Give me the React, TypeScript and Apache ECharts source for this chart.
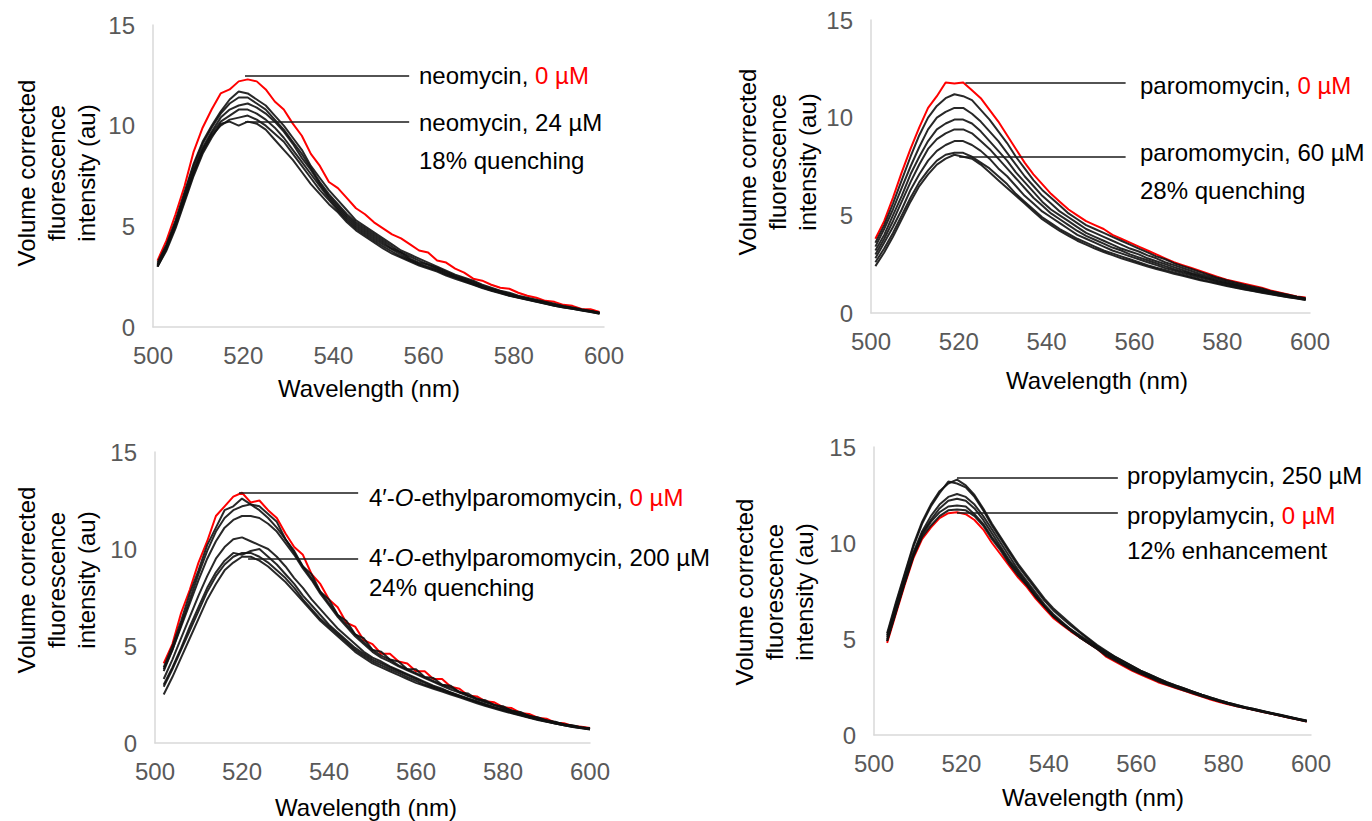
import React, { useEffect, useRef } from "react";
import * as echarts from "echarts";

// ---------- wavelengths (nm) ----------
const WL_ODD = [501, 503, 505, 507, 509, 511, 513, 515, 517, 519, 521, 523, 525, 527, 529, 531, 533, 535, 537, 539, 541, 543, 545, 547, 549, 551, 553, 555, 557, 559, 561, 563, 565, 567, 569, 571, 573, 575, 577, 579, 581, 583, 585, 587, 589, 591, 593, 595, 597, 599];
const WL_EVEN = [502, 504, 506, 508, 510, 512, 514, 516, 518, 520, 522, 524, 526, 528, 530, 532, 534, 536, 538, 540, 542, 544, 546, 548, 550, 552, 554, 556, 558, 560, 562, 564, 566, 568, 570, 572, 574, 576, 578, 580, 582, 584, 586, 588, 590, 592, 594, 596, 598, 600];
const WL_PROPYL = [503, 505, 507, 509, 511, 513, 515, 517, 519, 521, 523, 525, 527, 529, 531, 533, 535, 537, 539, 541, 543, 545, 547, 549, 551, 553, 555, 557, 559, 561, 563, 565, 567, 569, 571, 573, 575, 577, 579, 581, 583, 585, 587, 589, 591, 593, 595, 597, 599];

// ---------- neomycin ----------
const NEO_0 = [3.3, 4.3, 5.6, 7.0, 8.7, 9.9, 10.8, 11.6, 11.8, 12.2, 12.3, 12.2, 11.8, 11.2, 10.8, 10.1, 9.5, 8.6, 8.0, 7.2, 6.9, 6.4, 5.9, 5.6, 5.2, 4.9, 4.6, 4.4, 4.1, 3.8, 3.7, 3.3, 3.2, 2.9, 2.7, 2.4, 2.3, 2.1, 1.95, 1.9, 1.7, 1.55, 1.45, 1.3, 1.25, 1.1, 1.05, 0.9, 0.88, 0.75];
const NEO_A = [3.2, 4.1, 5.3, 6.7, 8.1, 9.2, 10.0, 10.7, 11.3, 11.7, 11.6, 11.3, 11.0, 10.5, 10.0, 9.4, 8.8, 8.0, 7.4, 6.8, 6.3, 5.8, 5.3, 5.0, 4.7, 4.4, 4.1, 3.8, 3.6, 3.4, 3.2, 3.0, 2.8, 2.6, 2.45, 2.3, 2.1, 1.95, 1.8, 1.7, 1.55, 1.45, 1.35, 1.25, 1.15, 1.05, 0.97, 0.88, 0.8, 0.72];
const NEO_B = [3.1, 4.0, 5.2, 6.6, 8.0, 9.1, 9.9, 10.6, 11.1, 11.4, 11.4, 11.1, 10.8, 10.3, 9.8, 9.2, 8.6, 7.9, 7.2, 6.6, 6.1, 5.6, 5.2, 4.9, 4.6, 4.3, 4.0, 3.7, 3.5, 3.3, 3.1, 2.95, 2.75, 2.55, 2.4, 2.25, 2.05, 1.9, 1.78, 1.65, 1.52, 1.42, 1.32, 1.22, 1.12, 1.02, 0.95, 0.86, 0.79, 0.7];
const NEO_C = [3.0, 3.9, 5.1, 6.4, 7.8, 8.9, 9.7, 10.4, 10.8, 11.0, 11.1, 10.9, 10.6, 10.2, 9.7, 9.1, 8.4, 7.8, 7.1, 6.5, 6.0, 5.5, 5.1, 4.8, 4.5, 4.2, 3.9, 3.7, 3.4, 3.2, 3.1, 2.9, 2.7, 2.5, 2.35, 2.2, 2.0, 1.85, 1.75, 1.6, 1.5, 1.4, 1.3, 1.2, 1.1, 1.0, 0.95, 0.85, 0.8, 0.7];
const NEO_D = [3.1, 4.0, 5.1, 6.4, 7.7, 8.8, 9.6, 10.2, 10.5, 10.8, 10.8, 10.6, 10.3, 9.9, 9.4, 8.8, 8.2, 7.6, 7.0, 6.4, 5.9, 5.4, 5.0, 4.7, 4.4, 4.1, 3.85, 3.6, 3.35, 3.15, 3.0, 2.85, 2.65, 2.48, 2.3, 2.15, 1.98, 1.83, 1.72, 1.58, 1.48, 1.38, 1.28, 1.18, 1.08, 0.99, 0.92, 0.84, 0.77, 0.68];
const NEO_E = [3.0, 3.9, 5.0, 6.3, 7.6, 8.7, 9.5, 10.0, 10.3, 10.4, 10.5, 10.3, 10.0, 9.6, 9.2, 8.6, 8.0, 7.4, 6.8, 6.3, 5.8, 5.3, 4.9, 4.6, 4.3, 4.0, 3.75, 3.5, 3.3, 3.1, 2.95, 2.8, 2.6, 2.45, 2.28, 2.12, 1.96, 1.82, 1.7, 1.56, 1.46, 1.36, 1.26, 1.16, 1.06, 0.98, 0.9, 0.83, 0.76, 0.67];
const NEO_F = [3.0, 3.8, 4.9, 6.2, 7.5, 8.6, 9.4, 10.1, 10.2, 10.0, 10.2, 10.1, 9.8, 9.3, 8.8, 8.3, 7.7, 7.1, 6.6, 6.1, 5.7, 5.2, 4.8, 4.5, 4.2, 3.9, 3.65, 3.45, 3.25, 3.05, 2.9, 2.75, 2.55, 2.4, 2.25, 2.1, 1.94, 1.8, 1.68, 1.55, 1.45, 1.35, 1.25, 1.15, 1.05, 0.97, 0.9, 0.82, 0.75, 0.66];

// ---------- paromomycin ----------
const PARO_0 = [3.8, 4.7, 5.9, 7.2, 8.4, 9.5, 10.5, 11.1, 11.8, 11.75, 11.8, 11.4, 11.0, 10.4, 9.8, 9.1, 8.4, 7.7, 7.1, 6.6, 6.1, 5.7, 5.3, 5.0, 4.7, 4.5, 4.3, 4.0, 3.8, 3.6, 3.4, 3.2, 3.0, 2.8, 2.6, 2.45, 2.3, 2.15, 2.0, 1.85, 1.7, 1.6, 1.5, 1.4, 1.3, 1.15, 1.05, 0.95, 0.85, 0.8];
const PARO_A = [3.6, 4.5, 5.6, 6.8, 8.0, 9.1, 10.0, 10.6, 11.0, 11.2, 11.1, 10.9, 10.4, 9.9, 9.3, 8.7, 8.0, 7.4, 6.8, 6.3, 5.9, 5.5, 5.1, 4.8, 4.5, 4.3, 4.1, 3.9, 3.7, 3.5, 3.3, 3.1, 2.9, 2.75, 2.55, 2.4, 2.25, 2.1, 1.95, 1.8, 1.68, 1.56, 1.45, 1.35, 1.25, 1.12, 1.02, 0.93, 0.83, 0.76];
const PARO_B = [3.4, 4.3, 5.3, 6.4, 7.5, 8.5, 9.4, 10.0, 10.3, 10.5, 10.5, 10.2, 9.8, 9.3, 8.8, 8.2, 7.6, 7.0, 6.5, 6.0, 5.6, 5.2, 4.9, 4.6, 4.3, 4.1, 3.9, 3.7, 3.5, 3.3, 3.15, 2.95, 2.8, 2.6, 2.45, 2.3, 2.15, 2.0, 1.88, 1.75, 1.62, 1.5, 1.4, 1.3, 1.2, 1.1, 1.0, 0.9, 0.82, 0.74];
const PARO_C = [3.2, 4.0, 5.0, 6.0, 7.1, 8.0, 8.8, 9.4, 9.7, 9.9, 9.9, 9.7, 9.3, 8.8, 8.3, 7.8, 7.2, 6.7, 6.2, 5.7, 5.3, 5.0, 4.7, 4.4, 4.1, 3.9, 3.7, 3.5, 3.3, 3.15, 3.0, 2.8, 2.65, 2.5, 2.35, 2.2, 2.05, 1.92, 1.8, 1.68, 1.56, 1.45, 1.35, 1.25, 1.15, 1.06, 0.97, 0.88, 0.8, 0.72];
const PARO_D = [3.0, 3.8, 4.7, 5.7, 6.7, 7.6, 8.4, 8.9, 9.2, 9.4, 9.4, 9.2, 8.8, 8.4, 7.9, 7.4, 6.9, 6.4, 5.9, 5.5, 5.1, 4.8, 4.5, 4.2, 3.95, 3.75, 3.55, 3.35, 3.2, 3.0, 2.85, 2.7, 2.55, 2.4, 2.25, 2.12, 2.0, 1.87, 1.75, 1.63, 1.52, 1.42, 1.32, 1.22, 1.13, 1.04, 0.95, 0.87, 0.79, 0.71];
const PARO_E = [2.8, 3.6, 4.4, 5.3, 6.3, 7.1, 7.8, 8.3, 8.6, 8.8, 8.8, 8.6, 8.3, 7.9, 7.4, 7.0, 6.5, 6.0, 5.6, 5.2, 4.9, 4.6, 4.3, 4.0, 3.8, 3.6, 3.4, 3.2, 3.05, 2.9, 2.75, 2.6, 2.45, 2.3, 2.18, 2.05, 1.93, 1.8, 1.7, 1.58, 1.48, 1.38, 1.28, 1.19, 1.1, 1.02, 0.93, 0.85, 0.77, 0.7];
const PARO_F = [2.6, 3.3, 4.1, 5.0, 5.9, 6.7, 7.3, 7.8, 8.1, 8.2, 8.2, 8.0, 7.7, 7.4, 7.0, 6.6, 6.1, 5.7, 5.3, 4.9, 4.6, 4.3, 4.05, 3.8, 3.6, 3.4, 3.2, 3.05, 2.9, 2.75, 2.6, 2.45, 2.32, 2.2, 2.08, 1.96, 1.84, 1.72, 1.62, 1.52, 1.42, 1.32, 1.23, 1.14, 1.06, 0.98, 0.9, 0.82, 0.75, 0.68];
const PARO_G = [2.4, 3.1, 3.9, 4.8, 5.7, 6.5, 7.1, 7.6, 7.9, 8.1, 8.0, 7.9, 7.6, 7.2, 6.8, 6.4, 6.0, 5.6, 5.2, 4.8, 4.5, 4.2, 3.95, 3.7, 3.5, 3.3, 3.12, 2.96, 2.8, 2.66, 2.52, 2.38, 2.25, 2.13, 2.01, 1.9, 1.79, 1.68, 1.58, 1.48, 1.38, 1.29, 1.2, 1.12, 1.04, 0.96, 0.88, 0.81, 0.74, 0.67];

// ---------- 4'-O-ethylparomomycin ----------
const ETHYL_0 = [4.1, 5.1, 6.7, 7.9, 9.3, 10.4, 11.7, 12.2, 12.7, 12.9, 12.4, 12.5, 12.0, 11.6, 10.8, 10.1, 9.7, 8.7, 8.2, 7.4, 7.0, 6.2, 6.0, 5.3, 5.1, 4.6, 4.6, 4.2, 4.1, 3.7, 3.7, 3.3, 3.3, 2.9, 2.8, 2.45, 2.4, 2.15, 2.1, 1.85, 1.8, 1.55, 1.5, 1.3, 1.25, 1.05, 1.02, 0.88, 0.84, 0.77];
const ETHYL_A = [3.9, 5.0, 6.3, 7.7, 8.9, 10.2, 11.1, 12.0, 12.2, 12.6, 12.3, 12.2, 11.8, 11.4, 10.5, 9.9, 9.1, 8.7, 7.8, 7.4, 6.6, 6.3, 5.6, 5.4, 4.8, 4.7, 4.3, 4.2, 3.8, 3.8, 3.4, 3.35, 3.0, 2.95, 2.6, 2.55, 2.25, 2.2, 1.95, 1.9, 1.65, 1.6, 1.38, 1.33, 1.15, 1.1, 0.96, 0.92, 0.8, 0.76];
const ETHYL_B = [3.7, 4.8, 6.1, 7.4, 8.7, 9.9, 10.9, 11.6, 12.0, 12.2, 12.3, 12.0, 11.6, 11.1, 10.5, 9.8, 9.1, 8.5, 7.8, 7.2, 6.6, 6.1, 5.6, 5.2, 4.8, 4.5, 4.3, 4.0, 3.8, 3.6, 3.4, 3.2, 3.0, 2.85, 2.65, 2.45, 2.3, 2.12, 1.98, 1.82, 1.68, 1.54, 1.4, 1.28, 1.17, 1.07, 0.97, 0.88, 0.81, 0.75];
const ETHYL_C = [3.8, 4.8, 6.0, 7.2, 8.4, 9.5, 10.4, 11.1, 11.5, 11.7, 11.7, 11.6, 11.3, 10.9, 10.3, 9.7, 9.0, 8.4, 7.7, 7.1, 6.5, 6.0, 5.5, 5.1, 4.7, 4.4, 4.2, 3.95, 3.75, 3.55, 3.35, 3.15, 2.95, 2.75, 2.6, 2.42, 2.25, 2.1, 1.95, 1.8, 1.66, 1.52, 1.4, 1.27, 1.16, 1.06, 0.96, 0.88, 0.8, 0.74];
const ETHYL_D = [3.3, 4.3, 5.4, 6.5, 7.6, 8.6, 9.5, 10.1, 10.5, 10.6, 10.4, 10.2, 10.0, 9.6, 9.1, 8.5, 8.0, 7.4, 6.9, 6.4, 5.9, 5.5, 5.1, 4.7, 4.4, 4.2, 3.95, 3.75, 3.55, 3.35, 3.15, 2.95, 2.8, 2.6, 2.45, 2.3, 2.15, 2.0, 1.85, 1.72, 1.6, 1.47, 1.35, 1.24, 1.13, 1.03, 0.94, 0.86, 0.79, 0.73];
const ETHYL_E = [3.0, 3.9, 4.9, 6.0, 7.0, 8.0, 8.8, 9.4, 9.8, 9.7, 9.9, 10.0, 9.6, 9.2, 8.7, 8.2, 7.6, 7.1, 6.6, 6.1, 5.7, 5.3, 4.9, 4.6, 4.3, 4.1, 3.9, 3.7, 3.5, 3.3, 3.1, 2.9, 2.75, 2.6, 2.42, 2.27, 2.12, 1.97, 1.83, 1.7, 1.57, 1.45, 1.33, 1.22, 1.12, 1.02, 0.93, 0.85, 0.78, 0.72];
const ETHYL_F = [2.9, 3.8, 4.8, 5.8, 6.8, 7.8, 8.6, 9.2, 9.6, 9.8, 9.8, 9.6, 9.3, 8.9, 8.5, 8.0, 7.4, 6.9, 6.4, 6.0, 5.6, 5.2, 4.8, 4.5, 4.2, 4.0, 3.8, 3.6, 3.4, 3.2, 3.0, 2.85, 2.7, 2.55, 2.4, 2.25, 2.1, 1.95, 1.82, 1.69, 1.56, 1.44, 1.32, 1.21, 1.11, 1.01, 0.92, 0.84, 0.77, 0.71];
const ETHYL_G = [2.5, 3.4, 4.4, 5.4, 6.4, 7.4, 8.2, 8.9, 9.3, 9.6, 9.6, 9.4, 9.1, 8.7, 8.3, 7.8, 7.3, 6.8, 6.3, 5.9, 5.5, 5.1, 4.7, 4.4, 4.1, 3.9, 3.7, 3.5, 3.3, 3.1, 2.95, 2.8, 2.65, 2.5, 2.35, 2.2, 2.05, 1.9, 1.78, 1.65, 1.53, 1.41, 1.3, 1.19, 1.09, 1.0, 0.91, 0.83, 0.76, 0.7];

// ---------- propylamycin ----------
const PROPYL_0 = [4.8, 6.3, 7.8, 9.2, 10.2, 10.8, 11.3, 11.55, 11.6, 11.5, 11.2, 10.7, 10.0, 9.4, 8.8, 8.2, 7.7, 7.1, 6.6, 6.1, 5.75, 5.4, 5.1, 4.8, 4.5, 4.1, 3.85, 3.6, 3.35, 3.15, 2.95, 2.75, 2.6, 2.45, 2.3, 2.15, 2.0, 1.85, 1.72, 1.6, 1.5, 1.4, 1.3, 1.2, 1.1, 1.0, 0.9, 0.8, 0.7];
const PROPYL_A = [5.3, 6.9, 8.4, 9.9, 11.1, 12.0, 12.7, 13.1, 13.3, 13.0, 12.5, 11.8, 11.0, 10.3, 9.6, 8.9, 8.3, 7.7, 7.1, 6.6, 6.2, 5.8, 5.4, 5.05, 4.7, 4.4, 4.1, 3.85, 3.6, 3.35, 3.15, 2.95, 2.75, 2.58, 2.42, 2.26, 2.1, 1.95, 1.81, 1.68, 1.56, 1.45, 1.35, 1.25, 1.15, 1.05, 0.95, 0.85, 0.75];
const PROPYL_B = [5.2, 6.8, 8.3, 9.8, 11.0, 11.9, 12.6, 13.2, 13.1, 12.9, 12.4, 11.7, 10.9, 10.2, 9.5, 8.8, 8.2, 7.6, 7.0, 6.5, 6.1, 5.7, 5.35, 5.0, 4.65, 4.35, 4.1, 3.85, 3.6, 3.35, 3.15, 2.95, 2.75, 2.58, 2.42, 2.26, 2.1, 1.95, 1.81, 1.68, 1.56, 1.45, 1.35, 1.24, 1.14, 1.04, 0.94, 0.84, 0.74];
const PROPYL_C = [5.1, 6.6, 8.1, 9.5, 10.6, 11.4, 12.0, 12.4, 12.55, 12.4, 12.0, 11.4, 10.7, 10.0, 9.3, 8.6, 8.0, 7.4, 6.8, 6.3, 5.9, 5.5, 5.2, 4.9, 4.6, 4.3, 4.0, 3.75, 3.5, 3.3, 3.1, 2.9, 2.7, 2.55, 2.4, 2.24, 2.08, 1.93, 1.79, 1.66, 1.54, 1.43, 1.33, 1.23, 1.13, 1.03, 0.93, 0.83, 0.73];
const PROPYL_D = [5.0, 6.5, 8.0, 9.4, 10.5, 11.2, 11.8, 12.2, 12.3, 12.2, 11.8, 11.2, 10.5, 9.8, 9.1, 8.5, 7.9, 7.3, 6.7, 6.2, 5.85, 5.5, 5.15, 4.85, 4.55, 4.25, 4.0, 3.7, 3.5, 3.28, 3.07, 2.88, 2.7, 2.53, 2.37, 2.22, 2.07, 1.92, 1.78, 1.65, 1.53, 1.42, 1.32, 1.22, 1.12, 1.02, 0.92, 0.82, 0.72];
const PROPYL_E = [4.9, 6.4, 7.9, 9.3, 10.4, 11.1, 11.6, 11.9, 11.95, 11.9, 11.5, 11.0, 10.3, 9.7, 9.0, 8.4, 7.8, 7.2, 6.7, 6.2, 5.8, 5.45, 5.1, 4.8, 4.5, 4.2, 3.95, 3.7, 3.45, 3.23, 3.03, 2.84, 2.66, 2.5, 2.35, 2.2, 2.05, 1.9, 1.76, 1.63, 1.52, 1.41, 1.31, 1.21, 1.11, 1.01, 0.91, 0.81, 0.71];
const PROPYL_F = [4.9, 6.4, 7.9, 9.3, 10.3, 10.9, 11.4, 11.7, 11.75, 11.7, 11.4, 10.9, 10.2, 9.6, 8.9, 8.3, 7.8, 7.2, 6.7, 6.2, 5.8, 5.45, 5.1, 4.8, 4.5, 4.15, 3.9, 3.65, 3.4, 3.2, 3.0, 2.8, 2.63, 2.47, 2.32, 2.17, 2.02, 1.88, 1.75, 1.62, 1.5, 1.4, 1.3, 1.2, 1.1, 1.0, 0.9, 0.8, 0.7];

// ---------- axes ----------
const X_MIN = 500, X_MAX = 600, X_STEP = 20;
const Y_MIN = 0, Y_MAX = 15, Y_STEP = 5;

// leader lines: [x start (nm), x end (nm), y (au)]
const LEAD_NEO = [[520.4, 556.8, 12.5], [520.4, 556.8, 10.2]];
const LEAD_PARO = [[521.5, 558.0, 11.8], [520.1, 558.0, 8.0]];
const LEAD_ETHYL = [[519.3, 546.7, 12.9], [521.4, 546.7, 9.5]];
const LEAD_PROPYL = [[519.0, 555.8, 13.4], [519.0, 555.8, 11.6]];

const FONT = "Liberation Sans, Arial, sans-serif";

const PANELS = [
  {
    grid: { left: 153, top: 25, width: 451, height: 302 },
    wl: WL_ODD, red: NEO_0, blacks: [NEO_A, NEO_B, NEO_C, NEO_D, NEO_E, NEO_F], leaders: LEAD_NEO,
    labelX: 419, labelY: [75, 122, 160],
    labels: ["{k|neomycin, }{r|0 µM}", "{k|neomycin, 24 µM}", "{k|18% quenching}"],
    yTitle: [56, 173], xTitle: [369, 388],
  },
  {
    grid: { left: 871, top: 20, width: 439, height: 293 },
    wl: WL_ODD, red: PARO_0, blacks: [PARO_A, PARO_B, PARO_C, PARO_D, PARO_E, PARO_F, PARO_G], leaders: LEAD_PARO,
    labelX: 1140, labelY: [85, 152, 190],
    labels: ["{k|paromomycin, }{r|0 µM}", "{k|paromomycin, 60 µM}", "{k|28% quenching}"],
    yTitle: [777, 162], xTitle: [1097, 380],
  },
  {
    grid: { left: 155, top: 452, width: 435, height: 291 },
    wl: WL_EVEN, red: ETHYL_0, blacks: [ETHYL_A, ETHYL_B, ETHYL_C, ETHYL_D, ETHYL_E, ETHYL_F, ETHYL_G], leaders: LEAD_ETHYL,
    labelX: 369, labelY: [497, 557, 587],
    labels: ["{k|4′-}{i|O}{k|-ethylparomomycin, }{r|0 µM}", "{k|4′-}{i|O}{k|-ethylparomomycin, 200 µM}", "{k|24% quenching}"],
    yTitle: [56, 580], xTitle: [366, 807],
  },
  {
    grid: { left: 874, top: 447, width: 437, height: 288 },
    wl: WL_PROPYL, red: PROPYL_0, blacks: [PROPYL_A, PROPYL_B, PROPYL_C, PROPYL_D, PROPYL_E, PROPYL_F], leaders: LEAD_PROPYL,
    labelX: 1127, labelY: [475, 515, 550],
    labels: ["{k|propylamycin, 250 µM}", "{k|propylamycin, }{r|0 µM}", "{k|12% enhancement}"],
    yTitle: [774, 592], xTitle: [1093, 797],
  },
];

const RICH = {
  k: { fill: "#000", fontSize: 24, fontFamily: FONT },
  i: { fill: "#000", fontSize: 24, fontFamily: FONT, fontStyle: "italic" },
  r: { fill: "#ff0000", fontSize: 24, fontFamily: FONT },
};

function pairs(wl: number[], v: number[]) {
  return wl.map((w, i) => [w, v[i]]);
}

function buildOption() {
  const grid = PANELS.map((p) => ({ ...p.grid, containLabel: false, outerBoundsMode: "none" }));
  const axisLabel = { color: "#595959", fontSize: 24, fontFamily: FONT };
  const xAxis = PANELS.map((_, i) => ({
    type: "value", gridIndex: i, min: X_MIN, max: X_MAX, interval: X_STEP,
    axisLine: { show: true, onZero: false, lineStyle: { color: "#d9d9d9", width: 1.5 } },
    axisTick: { show: false }, splitLine: { show: false },
    axisLabel: { ...axisLabel, margin: 16 },
  }));
  const yAxis = PANELS.map((_, i) => ({
    type: "value", gridIndex: i, min: Y_MIN, max: Y_MAX, interval: Y_STEP,
    axisLine: { show: true, onZero: false, lineStyle: { color: "#d9d9d9", width: 1.5 } },
    axisTick: { show: false }, splitLine: { show: false },
    axisLabel: { ...axisLabel, margin: 18 },
  }));
  const series: any[] = [];
  PANELS.forEach((p, i) => {
    series.push({
      type: "line", xAxisIndex: i, yAxisIndex: i, data: pairs(p.wl, p.red),
      symbol: "none", silent: true, z: 2,
      lineStyle: { color: "#ff0000", width: 2 }, itemStyle: { color: "#ff0000" },
      markLine: {
        silent: true, symbol: ["none", "none"], label: { show: false },
        lineStyle: { color: "#1a1a1a", width: 1.5, type: "solid" },
        emphasis: { disabled: true },
        data: p.leaders.map((l) => [{ coord: [l[0], l[2]] }, { coord: [l[1], l[2]] }]),
      },
    });
    p.blacks.forEach((b) => {
      series.push({
        type: "line", xAxisIndex: i, yAxisIndex: i, data: pairs(p.wl, b),
        symbol: "none", silent: true, z: 3,
        lineStyle: { color: "#111", width: 2, opacity: 0.9 }, itemStyle: { color: "#111" },
      });
    });
  });
  const graphic: any[] = [];
  PANELS.forEach((p) => {
    p.labels.forEach((t, j) => {
      graphic.push({
        type: "text", x: p.labelX, y: p.labelY[j], silent: true,
        style: { text: t, rich: RICH, fontSize: 24, fontFamily: FONT, fill: "#000", align: "left", verticalAlign: "middle", textAlign: "left", textVerticalAlign: "middle" },
      });
    });
    graphic.push({
      type: "text", x: p.xTitle[0], y: p.xTitle[1], silent: true,
      style: { text: "Wavelength (nm)", fontSize: 24, fontFamily: FONT, fill: "#000", align: "center", verticalAlign: "middle", textAlign: "center", textVerticalAlign: "middle" },
    });
    graphic.push({
      type: "text", x: p.yTitle[0], y: p.yTitle[1], rotation: Math.PI / 2, silent: true,
      style: { text: "Volume corrected\nfluorescence\nintensity (au)", fontSize: 24, lineHeight: 30, fontFamily: FONT, fill: "#000", align: "center", verticalAlign: "middle", textAlign: "center", textVerticalAlign: "middle" },
    });
  });
  return { animation: false, backgroundColor: "#fff", grid, xAxis, yAxis, series, graphic };
}

export default function App() {
  const ref = useRef<HTMLDivElement>(null);
  useEffect(() => {
    if (!ref.current) return;
    const chart = echarts.init(ref.current, undefined, { renderer: "svg" });
    chart.setOption(buildOption() as any);
    return () => chart.dispose();
  }, []);
  return <div ref={ref} style={{ position: "absolute", left: 0, top: 0, width: 1372, height: 821, background: "#fff" }} />;
}
